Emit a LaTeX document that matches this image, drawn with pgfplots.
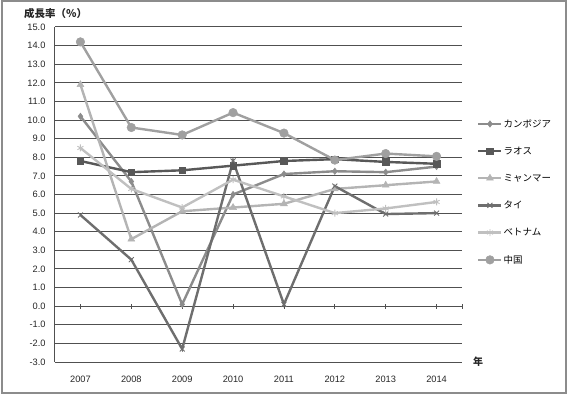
\documentclass[border=0pt]{standalone}
\usepackage{pgfplots}
\pgfplotsset{compat=1.18}
\usepackage{fontspec}
\setmainfont{Liberation Sans}
\newfontfamily\cjk{Noto Sans CJK JP}
\definecolor{gridc}{HTML}{505050}
\definecolor{cKH}{HTML}{8C8C8C}
\definecolor{cLA}{HTML}{585858}
\definecolor{cMM}{HTML}{B4B4B4}
\definecolor{cTH}{HTML}{6E6E6E}
\definecolor{cVN}{HTML}{C0C0C0}
\definecolor{cCN}{HTML}{A0A0A0}
\begin{document}
\begin{tikzpicture}[x=1bp,y=1bp]
\path[use as bounding box] (-55,-33) rectangle (514,362);
\draw[color=black!45, line width=1.2bp] (-53,-31) rectangle (511,361);
% zero line with crossing ticks, and the year labels
\begin{axis}[at={(0,0)}, anchor=south west, scale only axis,
  width=407bp, height=335bp,
  xmin=-0.5, xmax=7.5, ymin=-3, ymax=15,
  axis x line=middle, axis y line=none,
  axis line style={gridc, line width=1bp, -},
  xtick={0,1,2,3,4,5,6,7,7.5},
  xticklabels={2007,2008,2009,2010,2011,2012,2013,2014,{}},
  xticklabel style={font=\fontsize{9.3}{10}\selectfont, color=black!85, yshift=-64bp},
  tick align=center, major tick length=5bp,
  xtick style={gridc, line width=0.8bp},
  xmajorgrids=false, ymajorgrids=false,
]
\end{axis}
\begin{axis}[at={(0,0)}, anchor=south west, scale only axis,
  width=407bp, height=335bp,
  xmin=-0.5, xmax=7.5, ymin=-3, ymax=15,
  xtick=\empty,
  ytick={-3,-2,...,15},
  ymajorgrids=true, xmajorgrids=false,
  major y grid style={gridc, line width=1bp},
  axis x line*=bottom, axis y line*=left,
  axis line style={gridc, line width=1bp, -},
  ytick style={draw=none},
  /pgf/number format/assume math mode=true,
  tick label style={font=\fontsize{9.3}{10}\selectfont, color=black!85},
  yticklabel style={/pgf/number format/fixed, /pgf/number format/fixed zerofill, /pgf/number format/precision=1, xshift=-6bp},
  clip=false,
  legend style={at={(1.037,0.728)}, anchor=north west, draw=none, fill=none,
    font=\cjk\fontsize{9.5}{10}\selectfont, row sep=16.2bp, inner sep=0pt,
    nodes={inner sep=1bp}, cells={anchor=west}},
  legend image code/.code={\draw[mark repeat=2, mark phase=2] plot coordinates {(0bp,0bp)(11.5bp,0bp)(23bp,0bp)};},
  every axis plot/.append style={line width=2.4bp},
]
\addplot[cKH, mark=diamond*, mark size=3.2bp, mark options={solid, fill=cKH, line width=0.5bp}] coordinates {
 (0,10.2) (1,6.7) (2,0.1) (3,6.0) (4,7.1) (5,7.25) (6,7.2) (7,7.5)};
\addlegendentry{カンボジア}
\addplot[cLA, mark=square*, mark size=3.3bp, mark options={solid, fill=cLA, line width=0.5bp}] coordinates {
 (0,7.8) (1,7.2) (2,7.3) (3,7.55) (4,7.8) (5,7.9) (6,7.75) (7,7.65)};
\addlegendentry{ラオス}
\addplot[cMM, mark=triangle*, mark size=4bp, mark options={solid, fill=cMM, line width=0.5bp}] coordinates {
 (0,11.9) (1,3.6) (2,5.1) (3,5.3) (4,5.5) (5,6.3) (6,6.5) (7,6.7)};
\addlegendentry{ミャンマー}
\addplot[cTH, mark=x, mark size=3.5bp, mark options={solid, line width=0.9bp}] coordinates {
 (0,4.9) (1,2.5) (2,-2.3) (3,7.8) (4,0.1) (5,6.45) (6,4.95) (7,5.0)};
\addlegendentry{タイ}
\addplot[cVN, mark=asterisk, mark size=3.5bp, mark options={solid, line width=0.9bp}] coordinates {
 (0,8.5) (1,6.3) (2,5.3) (3,6.8) (4,5.9) (5,5.0) (6,5.25) (7,5.6)};
\addlegendentry{ベトナム}
\addplot[cCN, mark=*, mark size=4.3bp, mark options={solid, fill=cCN, line width=0.5bp}] coordinates {
 (0,14.2) (1,9.6) (2,9.2) (3,10.4) (4,9.3) (5,7.85) (6,8.2) (7,8.05)};
\addlegendentry{中国}
\end{axis}
\node[anchor=west, font=\cjk\bfseries\fontsize{10.5}{12}\selectfont, text=black!85, inner sep=0pt] at (-31,348) {成長率（％）};
\node[font=\cjk\bfseries\fontsize{10}{12}\selectfont, text=black!85, inner sep=0pt] at (423,0) {年};
\end{tikzpicture}
\end{document}
